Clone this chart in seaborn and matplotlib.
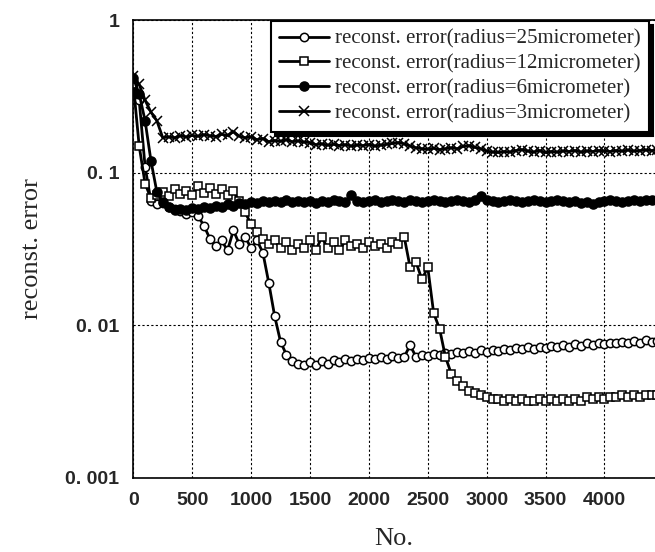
import numpy as np
import pandas as pd
import seaborn as sns
import matplotlib.pyplot as plt
from matplotlib.ticker import FixedLocator, FixedFormatter

# sample number (every 50th iteration)
no = list(range(0, 4500, 50))

err_25um = [0.40, 0.30, 0.11, 0.065, 0.062, 0.063, 0.060, 0.058, 0.056, 0.054,
            0.055, 0.052, 0.045, 0.037, 0.033, 0.036, 0.031, 0.042, 0.034, 0.038,
            0.032, 0.036, 0.030, 0.019, 0.0115, 0.0078, 0.0064, 0.0058, 0.0056, 0.0055,
            0.0057, 0.0055, 0.0058, 0.0056, 0.0059, 0.0057, 0.0060, 0.0058, 0.0060, 0.0059,
            0.0061, 0.0060, 0.0062, 0.0060, 0.0063, 0.0061, 0.0062, 0.0074, 0.0062, 0.0064,
            0.0063, 0.0065, 0.0064, 0.0066, 0.0065, 0.0067, 0.0066, 0.0068, 0.0066, 0.0069,
            0.0067, 0.0069, 0.0068, 0.0070, 0.0069, 0.0071, 0.0070, 0.0072, 0.0070, 0.0072,
            0.0071, 0.0073, 0.0072, 0.0074, 0.0072, 0.0075, 0.0073, 0.0077, 0.0074, 0.0076,
            0.0075, 0.0077, 0.0076, 0.0078, 0.0077, 0.0079, 0.0077, 0.0080, 0.0078, 0.0079]

err_12um = [0.38, 0.15, 0.085, 0.068, 0.072, 0.075, 0.071, 0.078, 0.073, 0.076,
            0.072, 0.082, 0.074, 0.079, 0.073, 0.078, 0.072, 0.076, 0.065, 0.055,
            0.046, 0.041, 0.037, 0.034, 0.036, 0.032, 0.035, 0.031, 0.034, 0.032,
            0.036, 0.031, 0.038, 0.032, 0.035, 0.031, 0.036, 0.033, 0.034, 0.032,
            0.035, 0.033, 0.034, 0.032, 0.035, 0.034, 0.038, 0.024, 0.026, 0.020,
            0.024, 0.012, 0.0095, 0.0062, 0.0048, 0.0043, 0.0040, 0.0037, 0.0036, 0.0035,
            0.0034, 0.0033, 0.0033, 0.0032, 0.0033, 0.0032, 0.0033, 0.0032, 0.0032, 0.0033,
            0.0032, 0.0033, 0.0032, 0.0033, 0.0032, 0.0033, 0.0032, 0.0034, 0.0033, 0.0034,
            0.0033, 0.0034, 0.0034, 0.0035, 0.0034, 0.0035, 0.0034, 0.0035, 0.0035, 0.0035]

err_6um = [0.42, 0.33, 0.22, 0.12, 0.075, 0.064, 0.060, 0.057, 0.058, 0.057,
           0.059, 0.058, 0.060, 0.059, 0.061, 0.060, 0.062, 0.061, 0.063, 0.062,
           0.064, 0.063, 0.065, 0.064, 0.065, 0.064, 0.066, 0.064, 0.065, 0.064,
           0.065, 0.063, 0.065, 0.064, 0.066, 0.065, 0.064, 0.072, 0.065, 0.064,
           0.065, 0.066, 0.064, 0.065, 0.066, 0.065, 0.064, 0.066, 0.065, 0.064,
           0.065, 0.066, 0.065, 0.064, 0.065, 0.066, 0.065, 0.064, 0.066, 0.071,
           0.066, 0.065, 0.064, 0.065, 0.066, 0.065, 0.064, 0.065, 0.066, 0.065,
           0.064, 0.065, 0.066, 0.065, 0.064, 0.065, 0.063, 0.064, 0.062, 0.064,
           0.065, 0.066, 0.065, 0.064, 0.065, 0.066, 0.065, 0.066, 0.066, 0.066]

err_3um = [0.43, 0.38, 0.30, 0.25, 0.22, 0.170, 0.172, 0.170, 0.175, 0.172,
           0.176, 0.174, 0.178, 0.175, 0.173, 0.179, 0.176, 0.186, 0.174, 0.170,
           0.172, 0.165, 0.168, 0.160, 0.163, 0.161, 0.165, 0.160, 0.162, 0.159,
           0.158, 0.153, 0.155, 0.152, 0.154, 0.151, 0.153, 0.150, 0.152, 0.151,
           0.153, 0.150, 0.152, 0.154, 0.156, 0.158, 0.155, 0.150, 0.146, 0.144,
           0.143, 0.145, 0.142, 0.144, 0.146, 0.144, 0.149, 0.151, 0.147, 0.144,
           0.139, 0.137, 0.136, 0.138, 0.137, 0.140, 0.142, 0.139, 0.137, 0.140,
           0.136, 0.138, 0.137, 0.139, 0.138, 0.140, 0.137, 0.139, 0.138, 0.140,
           0.139, 0.138, 0.140, 0.139, 0.141, 0.139, 0.140, 0.141, 0.140, 0.141]

labels = ["reconst. error(radius=25micrometer)",
          "reconst. error(radius=12micrometer)",
          "reconst. error(radius=6micrometer)",
          "reconst. error(radius=3micrometer)"]

x_ticks = [0, 500, 1000, 1500, 2000, 2500, 3000, 3500, 4000]
y_ticks = [0.001, 0.01, 0.1, 1]
y_tick_labels = ["0. 001", "0. 01", "0. 1", "1"]

sns.set_style("white")
plt.rcParams['font.family'] = ['Liberation Serif', 'DejaVu Serif']

fig = plt.figure(figsize=(6.55, 5.52), dpi=100)
ax = fig.add_axes([0.2035, 0.1346, 0.7965, 0.8284])

styles = [
    dict(marker='o', markersize=6, markerfacecolor='white'),
    dict(marker='s', markersize=6, markerfacecolor='white'),
    dict(marker='o', markersize=6.5, markerfacecolor='black'),
    dict(marker='x', markersize=6.5),
]
for vals, lab, st in zip([err_25um, err_12um, err_6um, err_3um], labels, styles):
    sns.lineplot(x=no, y=vals, ax=ax, color='black', linewidth=2.0,
                 markeredgecolor='black', markeredgewidth=1.1, label=lab, **st)

ax.set_yscale('log')
ax.set_xlim(0, 4429)
ax.set_ylim(0.001, 1)

ax.xaxis.set_major_locator(FixedLocator(x_ticks))
ax.yaxis.set_major_locator(FixedLocator(y_ticks))
ax.yaxis.set_major_formatter(FixedFormatter(y_tick_labels))
ax.yaxis.set_minor_locator(FixedLocator([]))

ax.grid(True, color='black', linestyle=(0, (2, 2)), linewidth=0.8)
ax.tick_params(direction='in', length=5, width=1, color='black', pad=10)
for lab in ax.get_xticklabels() + ax.get_yticklabels():
    lab.set_family(['Liberation Sans Narrow', 'Liberation Sans'])
    lab.set_fontweight('bold')
    lab.set_fontsize(14)

for side in ['left', 'bottom', 'top']:
    ax.spines[side].set_color('black')
    ax.spines[side].set_linewidth(1.2)
ax.spines['right'].set_visible(False)

ax.set_xlabel("No.", fontsize=19, labelpad=14)
ax.set_ylabel("reconst. error", fontsize=19, labelpad=16)

leg = ax.legend(loc='upper right', bbox_to_anchor=(0.991, 0.962),
                bbox_transform=fig.transFigure, fontsize=15, frameon=True,
                fancybox=False, shadow={'color': 'black', 'ox': 3, 'oy': -3, 'alpha': 1},
                handlelength=2.4, handletextpad=0.3, borderpad=0.4,
                labelspacing=0.25, borderaxespad=0)
leg.get_frame().set_edgecolor('black')
leg.get_frame().set_linewidth(1.5)
leg.get_frame().set_alpha(1)

fig.savefig("out.png", dpi=100)
